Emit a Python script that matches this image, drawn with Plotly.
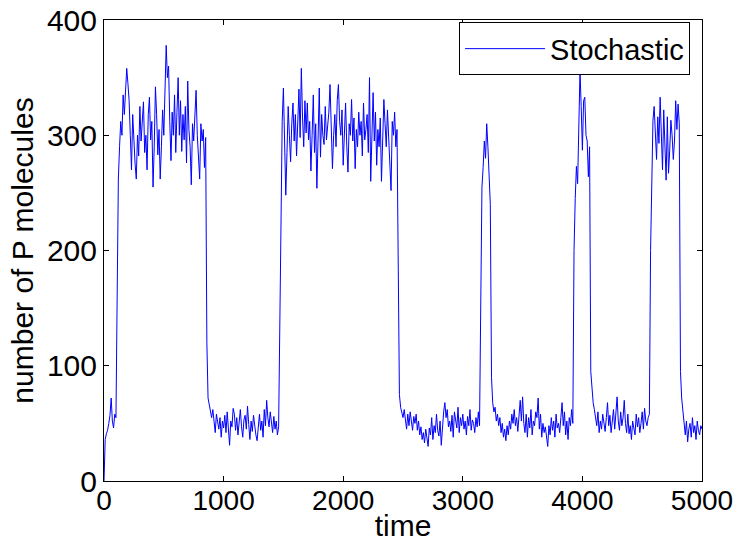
import plotly.graph_objects as go

# Number of P molecules, sampled every 10 time units (one list per 1000 time units)
step = 10
p_0000 = [
    0, 36, 41, 44, 50, 57, 72, 52, 46, 58,
    55, 140, 262, 290, 312, 300, 335, 318, 342, 358,
    345, 330, 300, 270, 318, 290, 275, 262, 300, 282,
    325, 295, 310, 329, 285, 300, 270, 318, 333, 296,
    312, 255, 290, 342, 318, 283, 305, 262, 290, 322,
    300, 340, 378, 350, 360, 312, 278, 320, 300, 335,
    285, 320, 350, 300, 330, 286, 318, 296, 325, 276,
    347, 305, 290, 257, 310, 295, 320, 339, 300, 285,
    262, 310, 295, 305, 272, 298, 120, 72, 66, 60,
    55, 62, 48, 42, 58, 50, 45, 55, 38, 52,
]
p_1000 = [
    46, 57, 42, 60, 48, 31, 52, 47, 63, 58,
    44, 55, 40, 50, 62, 47, 38, 53, 57, 45,
    65, 49, 36, 52, 43, 57, 46, 40, 35, 50,
    58, 44, 52, 38, 62, 48, 70, 55, 47, 60,
    50, 42, 56, 45, 52, 40, 47, 150, 260, 312,
    341, 290, 248, 285, 325, 300, 277, 310, 328, 295,
    318, 282, 305, 340, 298, 358, 315, 290, 330, 302,
    328, 296, 312, 269, 300, 335, 285, 310, 254, 290,
    341, 281, 318, 300, 292, 325, 296, 308, 320, 344,
    315, 271, 300, 318, 290, 330, 344, 312, 300, 322,
]
p_2000 = [
    274, 305, 328, 290, 268, 310, 300, 331, 295, 315,
    271, 305, 290, 320, 300, 312, 282, 328, 296, 305,
    318, 285, 350, 260, 310, 337, 295, 320, 274, 305,
    290, 315, 260, 300, 331, 310, 290, 322, 300, 285,
    252, 312, 300, 320, 290, 305, 140, 75, 64, 60,
    55, 62, 50, 45, 58, 48, 60, 52, 44, 56,
    50, 58, 44, 52, 40, 47, 36, 42, 33, 45,
    38, 30, 46, 40, 55, 36, 48, 42, 58, 44,
    39, 52, 31, 48, 60, 68, 55, 62, 47, 52,
    43, 57, 38, 60, 50, 46, 64, 42, 55, 48,
]
p_3000 = [
    58, 45, 52, 40, 56, 48, 62, 44, 53, 50,
    42, 55, 47, 60, 48, 150, 255, 272, 295, 280,
    310, 290, 265, 240, 90, 68, 60, 64, 52, 58,
    48, 55, 42, 50, 38, 45, 35, 48, 40, 52,
    45, 58, 50, 62, 48, 55, 43, 60, 70, 52,
    73, 50, 42, 58, 38, 55, 46, 62, 40, 52,
    48, 60, 55, 72, 45, 58, 38, 50, 42, 47,
    35, 30, 48, 40, 55, 44, 52, 38, 58, 46,
    50, 42, 55, 68, 48, 60, 40, 52, 36, 55,
    48, 62, 50, 200, 245, 273, 258, 300, 356, 325,
]
p_4000 = [
    287, 330, 333, 300, 295, 264, 290, 95, 78, 68,
    62, 55, 48, 60, 42, 52, 45, 58, 50, 43,
    55, 68, 48, 57, 42, 50, 62, 45, 58, 73,
    52, 44, 60, 48, 55, 70, 50, 42, 58, 41,
    48, 36, 52, 45, 40, 58, 47, 55, 42, 50,
    60, 45, 63, 52, 48, 55, 58, 200, 276, 313,
    325, 300, 279, 316, 293, 333, 305, 270, 322, 290,
    261, 316, 267, 287, 313, 300, 279, 295, 330, 305,
    327, 310, 95, 72, 60, 48, 40, 52, 34, 45,
    50, 38, 55, 42, 48, 36, 52, 44, 40, 48,
    45,
]

p_values = p_0000 + p_1000 + p_2000 + p_3000 + p_4000
time = [i * step for i in range(len(p_values))]

x_ticks = [0, 1000, 2000, 3000, 4000, 5000]
y_ticks = [0, 100, 200, 300, 400]

FONT = "Liberation Sans, Arial, Helvetica, sans-serif"
FS = 28

fig = go.Figure()
fig.add_trace(go.Scatter(
    x=time, y=p_values, mode="lines", name="Stochastic",
    line=dict(color="#0000ff", width=1),
))

axis_common = dict(
    showgrid=False, zeroline=False, showline=True, linecolor="black", linewidth=1,
    mirror="ticks", ticks="inside", ticklen=5, tickcolor="black", tickwidth=1,
    ticklabeloverflow="allow", automargin=False,
)

fig.update_layout(
    width=734, height=547,
    margin=dict(l=104, r=32, t=20, b=66),
    paper_bgcolor="white", plot_bgcolor="white",
    font=dict(family=FONT, size=FS, color="black"),
    xaxis=dict(range=[0, 5000], tickvals=x_ticks, ticktext=[str(v) for v in x_ticks],
               tickfont=dict(family=FONT, size=FS, color="black"),
               ticklabelstandoff=-6,
               title=dict(text="time", standoff=0, font=dict(family=FONT, size=30)),
               **axis_common),
    yaxis=dict(range=[0, 400], tickvals=y_ticks, ticktext=[str(v) for v in y_ticks],
               tickfont=dict(family=FONT, size=30, color="black"),
               title=dict(text="number of P molecules", standoff=4,
                          font=dict(family=FONT, size=30)),
               **axis_common),
    showlegend=True,
    legend=dict(x=0.98, y=0.995, xanchor="right", yanchor="top",
                bgcolor="white", bordercolor="black", borderwidth=1,
                font=dict(family=FONT, size=29), itemwidth=80),
)

fig.write_html("out.html")
